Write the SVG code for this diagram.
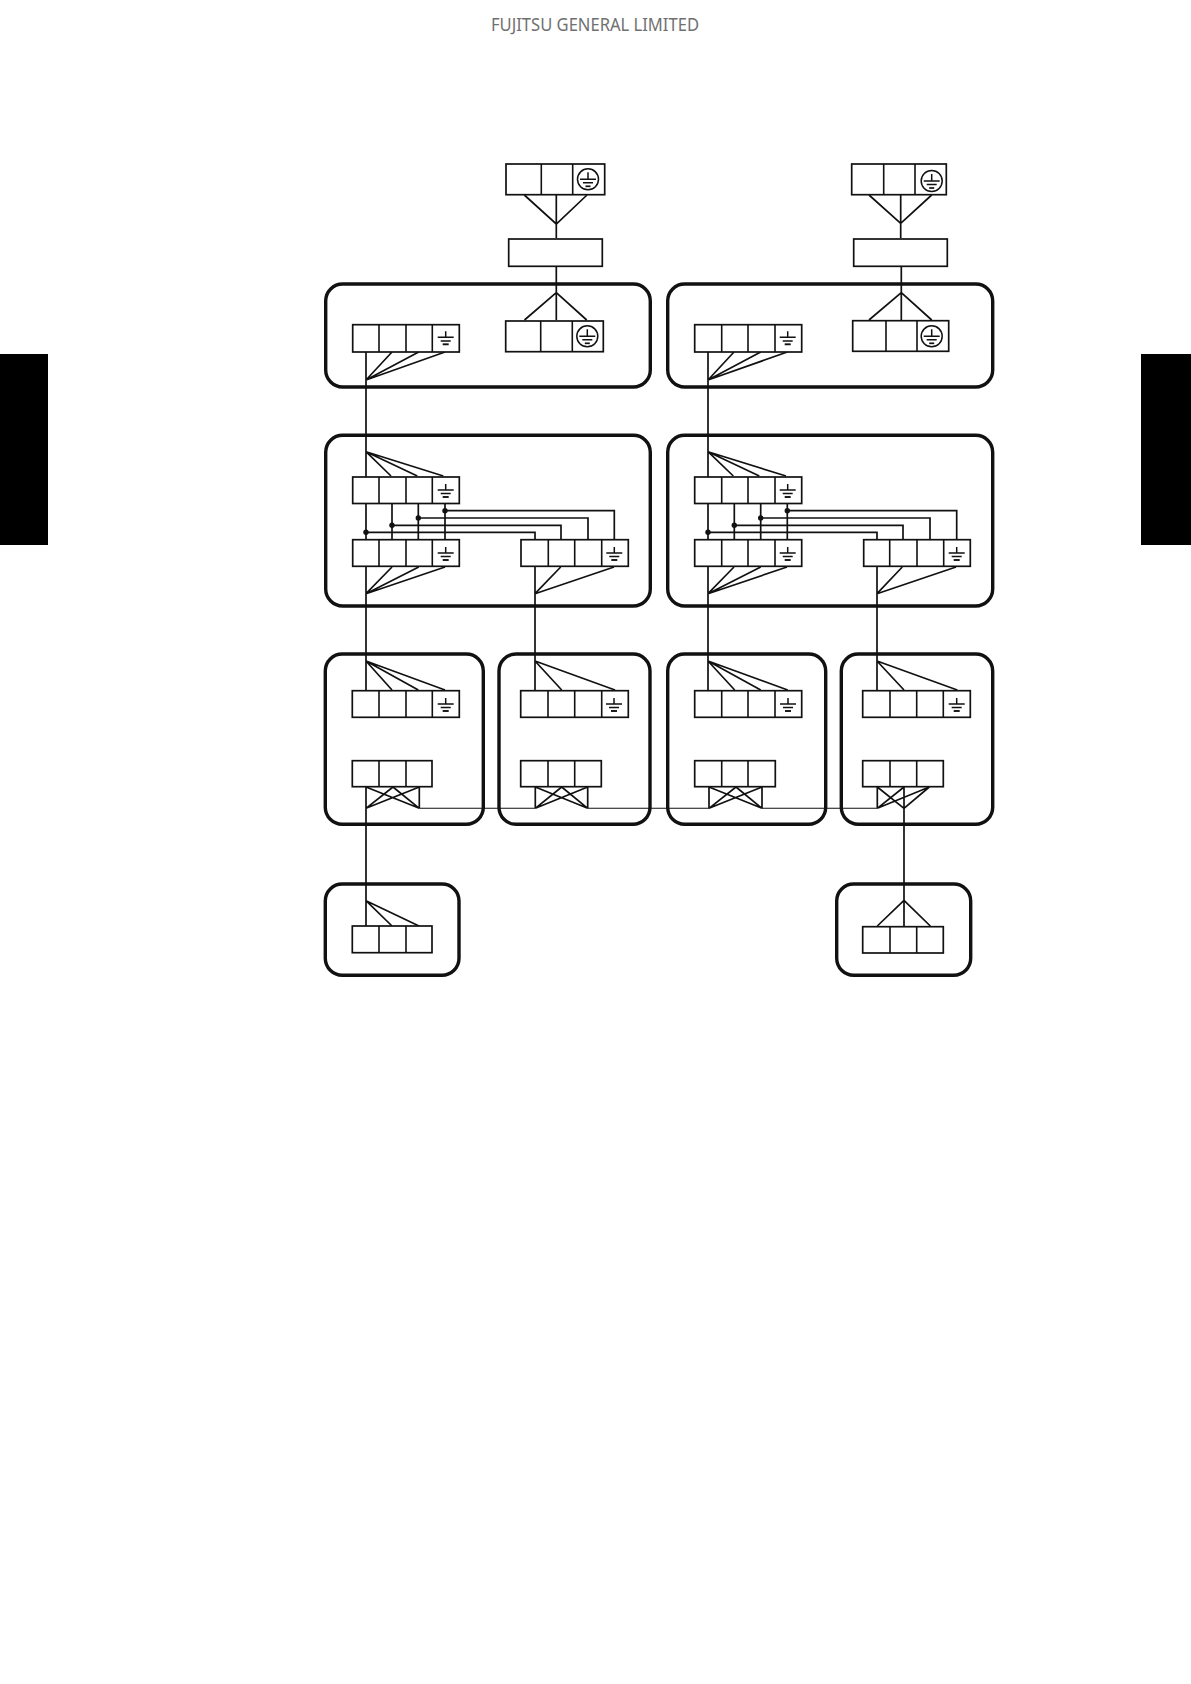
<svg xmlns="http://www.w3.org/2000/svg" xmlns:xlink="http://www.w3.org/1999/xlink" width="1191" height="1684" viewBox="0 0 1191 1684">
<style>
.p{fill:#fff;stroke:#111;stroke-width:3.4}
.b{fill:#fff;stroke:#111;stroke-width:1.7}
.d{fill:none;stroke:#111;stroke-width:1.6}
.w{fill:none;stroke:#111;stroke-width:1.7}
.t{fill:none;stroke:#111;stroke-width:1.1}
.g{fill:none;stroke:#111;stroke-width:1.5}
.dot{fill:#111}
.side{fill:#000}
.hdr{font-family:"Noto Sans","Liberation Sans",sans-serif;font-size:18px;fill:#707070}
</style>
<defs>
<g id="gnd"><path class="g" d="M0-6V0M-8 0H8M-5 3.6H5"/><path d="M-3 7H3" stroke="#111" stroke-width="1.9" fill="none"/></g>
<g id="pe"><circle class="g" r="10.5" fill="none"/><path class="g" d="M0-7V0M-8 0H8M-5 3.5H5"/><path d="M-2.5 7H2.5" stroke="#111" stroke-width="1.7" fill="none"/></g>
</defs>
<rect id="side-left" class="side" x="0" y="354" width="48" height="191"/>
<rect id="side-right" class="side" x="1141" y="354" width="50" height="191"/>
<text id="header" class="hdr" x="491" y="31" textLength="208" lengthAdjust="spacingAndGlyphs">FUJITSU GENERAL LIMITED</text>

<g id="panels">
<rect id="panel-1a" class="p" x="325.7" y="284" width="324.6" height="103" rx="17"/>
<rect id="panel-1b" class="p" x="667.7" y="284" width="325" height="103" rx="17"/>
<rect id="panel-2a" class="p" x="325.7" y="435.3" width="324.6" height="170.7" rx="17"/>
<rect id="panel-2b" class="p" x="667.7" y="435.3" width="325" height="170.7" rx="17"/>
<rect id="panel-3a" class="p" x="325.3" y="654" width="158" height="170.3" rx="17"/>
<rect id="panel-3b" class="p" x="499" y="654" width="151" height="170.3" rx="17"/>
<rect id="panel-3c" class="p" x="667.7" y="654" width="158" height="170.3" rx="17"/>
<rect id="panel-3d" class="p" x="841.3" y="654" width="151.4" height="170.3" rx="17"/>
<rect id="panel-4a" class="p" x="325.3" y="884" width="133.7" height="91.3" rx="17"/>
<rect id="panel-4d" class="p" x="836.7" y="884" width="134" height="91.3" rx="17"/>
</g>

<g id="connectors">
<path class="w" d="M556.3 195V238M524.3 195L556.3 224L587 195M556.3 266V320M524.5 320L556.3 292.7L586.7 320"/>
<path class="w" d="M900.7 195V238M869 195L900.7 223.3L931.7 195M901.3 266V320M869 320L901.3 292.7L931.7 320"/>
<path class="w" d="M366 352V477M366 380L392 352M366 380L418.7 352M366 380L445 352M366 451.7L391 476M366 451.7L417.3 476M366 451.7L443.3 476"/>
<path class="w" d="M708 352V477M708 380L734 352M708 380L760.7 352M708 380L787.3 352M708 451.7L733.3 476M708 451.7L759.3 476M708 451.7L786 476"/>
<path class="w" d="M366 503V540M392 503V540M418.3 503V540M445 503V540M366 532.3H535V540M392 525.3H561V540M418.3 518H588V540M445 510.7H614.3V540"/>
<path class="w" d="M708 503V540M734.3 503V540M760.7 503V540M787.3 503V540M708 532.3H877V540M734.3 525.3H903V540M760.7 518H930V540M787.3 510.7H956.7V540"/>
<g class="dot"><circle cx="366" cy="532.3" r="2.7"/><circle cx="392" cy="525.3" r="2.7"/><circle cx="418.3" cy="518" r="2.7"/><circle cx="445" cy="510.7" r="2.7"/><circle cx="708" cy="532.3" r="2.7"/><circle cx="734.3" cy="525.3" r="2.7"/><circle cx="760.7" cy="518" r="2.7"/><circle cx="787.3" cy="510.7" r="2.7"/></g>
<path class="w" d="M366 566V691M366 593.7L392 567M366 593.7L418.7 567M366 593.7L445 567M366 661L392 690M366 661L418.3 690M366 661L445 690"/>
<path class="w" d="M535 566V691M535 593.7L560.7 567M535 593.7L614 567M535 661L561.7 690M535 661L615 690"/>
<path class="w" d="M708 566V691M708 593.7L734 567M708 593.7L760.7 567M708 593.7L787 567M708 661L734.7 690M708 661L760.7 690M708 661L787.7 690"/>
<path class="w" d="M877 566V691M877 593.7L902.3 567M877 593.7L956 567M877 661L904 690M877 661L957.3 690"/>
<path class="w" d="M366 787V926M419.3 787V808.3M366 787L419.3 808.3M366 808.3L419.3 787M366 808.3L393 787M393 787L419.3 808.3M366 900.7L392 926M366 900.7L419 926"/>
<path class="w" d="M535.3 787V808.3M587.7 787V808.3M535.3 787L587.7 808.3M535.3 808.3L587.7 787M535.3 808.3L561.7 787M561.7 787L587.7 808.3"/>
<path class="w" d="M709 787V808.3M762 787V808.3M709 787L762 808.3M709 808.3L762 787M709 808.3L736 787M736 787L762 808.3"/>
<path class="w" d="M877.3 787V808.3M904 787V927M877.3 787L904 808.3M877.3 808.3L904 787M877.3 808.3L929.3 787M904 808.3L929.3 787M904 900.3L877.3 926M904 900.3L930.3 926"/>
<path class="t" d="M419.3 808.3H535.3M587.7 808.3H709M762 808.3H877.3"/>
</g>

<g id="node-top-a"><rect class="b" x="506" y="164" width="98.7" height="30.7"/><path class="d" d="M541.3 164V194.7M572.7 164V194.7"/><use xlink:href="#pe" x="588" y="179.3"/></g>
<g id="node-top-b"><rect class="b" x="851.7" y="164" width="94.6" height="30.7"/><path class="d" d="M883.7 164V194.7M915 164V194.7"/><use xlink:href="#pe" x="931.7" y="181"/></g>
<g id="node-box-a"><rect class="b" x="508.7" y="239" width="93.6" height="27.3"/></g>
<g id="node-box-b"><rect class="b" x="853.7" y="239" width="93.6" height="27.3"/></g>
<g id="node-pe-a"><rect class="b" x="505.7" y="321" width="97.6" height="30.7"/><path class="d" d="M540.7 321V351.7M572.3 321V351.7"/><use xlink:href="#pe" x="587.3" y="336.3"/></g>
<g id="node-pe-b"><rect class="b" x="852.7" y="320.7" width="96" height="30.6"/><path class="d" d="M886 320.7V351.3M917 320.7V351.3"/><use xlink:href="#pe" x="931.7" y="336.3"/></g>

<g id="node-t1a"><rect class="b" x="352.7" y="324.7" width="106.6" height="27.3"/><path class="d" d="M379 324.7V352M406 324.7V352M432.3 324.7V352"/><use xlink:href="#gnd" x="445.7" y="337.3"/></g>
<g id="node-t1b"><rect class="b" x="694.7" y="324.7" width="107" height="27.3"/><path class="d" d="M721.7 324.7V352M748 324.7V352M775 324.7V352"/><use xlink:href="#gnd" x="787.7" y="337.3"/></g>
<g id="node-t2a"><rect class="b" x="352.7" y="477" width="106.6" height="26.5"/><path class="d" d="M379 477V503.5M406 477V503.5M432.3 477V503.5"/><use xlink:href="#gnd" x="445.7" y="490"/></g>
<g id="node-t2b"><rect class="b" x="694.7" y="477" width="107" height="26.5"/><path class="d" d="M721.7 477V503.5M748 477V503.5M775 477V503.5"/><use xlink:href="#gnd" x="787.7" y="490"/></g>
<g id="node-t3a"><rect class="b" x="352.7" y="539.7" width="106.6" height="26.6"/><path class="d" d="M379 539.7V566.3M406 539.7V566.3M432.3 539.7V566.3"/><use xlink:href="#gnd" x="445.7" y="553"/></g>
<g id="node-t3b"><rect class="b" x="694.7" y="539.7" width="107" height="26.6"/><path class="d" d="M721.7 539.7V566.3M748 539.7V566.3M775 539.7V566.3"/><use xlink:href="#gnd" x="787.7" y="553"/></g>
<g id="node-t3c"><rect class="b" x="521" y="539.7" width="107.3" height="26.6"/><path class="d" d="M548.3 539.7V566.3M574.7 539.7V566.3M601.7 539.7V566.3"/><use xlink:href="#gnd" x="614.3" y="553"/></g>
<g id="node-t3d"><rect class="b" x="863.7" y="539.7" width="106.6" height="26.6"/><path class="d" d="M889.7 539.7V566.3M917 539.7V566.3M943.7 539.7V566.3"/><use xlink:href="#gnd" x="956.7" y="553"/></g>

<g id="node-t4a"><rect class="b" x="352.3" y="690.7" width="107" height="26.6"/><path class="d" d="M379 690.7V717.3M406 690.7V717.3M432.3 690.7V717.3"/><use xlink:href="#gnd" x="445.7" y="704"/></g>
<g id="node-t4b"><rect class="b" x="520.7" y="690.7" width="107.6" height="26.6"/><path class="d" d="M548 690.7V717.3M574.7 690.7V717.3M601.7 690.7V717.3"/><use xlink:href="#gnd" x="614" y="704"/></g>
<g id="node-t4c"><rect class="b" x="694.7" y="690.7" width="107" height="26.6"/><path class="d" d="M721.7 690.7V717.3M748 690.7V717.3M775 690.7V717.3"/><use xlink:href="#gnd" x="788" y="704"/></g>
<g id="node-t4d"><rect class="b" x="862.7" y="690.7" width="107.6" height="26.6"/><path class="d" d="M890 690.7V717.3M916.7 690.7V717.3M943.3 690.7V717.3"/><use xlink:href="#gnd" x="956.7" y="704"/></g>

<g id="node-t5a"><rect class="b" x="352.3" y="760.7" width="79.7" height="26"/><path class="d" d="M379 760.7V786.7M406 760.7V786.7"/></g>
<g id="node-t5b"><rect class="b" x="520.7" y="760.7" width="80.6" height="26"/><path class="d" d="M548 760.7V786.7M574.7 760.7V786.7"/></g>
<g id="node-t5c"><rect class="b" x="694.7" y="760.7" width="80.6" height="26"/><path class="d" d="M721.7 760.7V786.7M748 760.7V786.7"/></g>
<g id="node-t5d"><rect class="b" x="862.7" y="760.7" width="80.6" height="26"/><path class="d" d="M890 760.7V786.7M916.7 760.7V786.7"/></g>

<g id="node-t6a"><rect class="b" x="352.3" y="926" width="79.7" height="26.7"/><path class="d" d="M379 926V952.7M406 926V952.7"/></g>
<g id="node-t6d"><rect class="b" x="862.7" y="926.7" width="80.6" height="26.3"/><path class="d" d="M890 926.7V953M916.7 926.7V953"/></g>
</svg>
